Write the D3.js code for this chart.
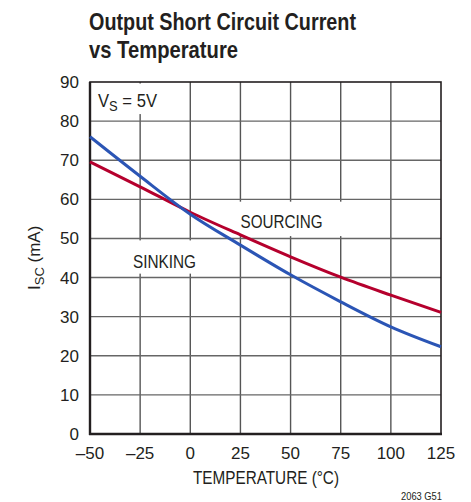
<!DOCTYPE html>
<html><head><meta charset="utf-8">
<script src="https://cdn.jsdelivr.net/npm/d3@7"></script>
<style>
html,body{margin:0;padding:0;background:#fff;}
svg{display:block;}
text{font-family:"Liberation Sans Narrow","Arial Narrow","Liberation Sans",sans-serif;fill:#231f20;}
</style></head>
<body>
<script>
const temperatures = [-50, -25, 0, 25, 50, 75, 100, 125];
const sinking = [76.0, 65.9, 56.2, 48.3, 40.7, 33.8, 27.4, 22.3];
const sourcing = [69.6, 63.2, 56.7, 50.9, 45.3, 40.1, 35.5, 31.1];
const xTicks = [-50, -25, 0, 25, 50, 75, 100, 125];
const yTicks = [0, 10, 20, 30, 40, 50, 60, 70, 80, 90];

const W = 471, H = 502;
const svg = d3.select("body").append("svg").attr("width", W).attr("height", H);
const x = d3.scaleLinear().domain([-50, 125]).range([90, 441]);
const y = d3.scaleLinear().domain([0, 90]).range([434, 82]);
const fmt = d => d < 0 ? "\u2013" + Math.abs(d) : String(d);

// Title
svg.append("text").attr("x", 89).attr("y", 30).attr("font-size", 24).attr("font-weight", "bold")
  .attr("textLength", 267).attr("lengthAdjust", "spacingAndGlyphs").text("Output Short Circuit Current");
svg.append("text").attr("x", 89).attr("y", 58).attr("font-size", 24).attr("font-weight", "bold")
  .attr("textLength", 149).attr("lengthAdjust", "spacingAndGlyphs").text("vs Temperature");

// Grid
const g = svg.append("g");
g.selectAll(".vg").data(xTicks.slice(1, -1)).enter().append("line")
  .attr("x1", d => x(d)).attr("x2", d => x(d)).attr("y1", y(90)).attr("y2", y(0))
  .attr("stroke", "#555").attr("stroke-width", 1.4);
g.selectAll(".hg").data(yTicks.slice(1, -1)).enter().append("line")
  .attr("x1", x(-50)).attr("x2", x(125)).attr("y1", d => y(d)).attr("y2", d => y(d))
  .attr("stroke", "#666").attr("stroke-width", 1.4);

// White label boxes
const boxes = [[-49.6, -22, 89.6, 81.8], [-35.5, 3, 49.5, 41], [22.8, 79, 59.4, 50.6]];
g.selectAll(".bx").data(boxes).enter().append("rect")
  .attr("x", d => x(d[0])).attr("width", d => x(d[1]) - x(d[0]))
  .attr("y", d => y(d[2])).attr("height", d => y(d[3]) - y(d[2]))
  .attr("fill", "#fff");

// Frame
svg.append("rect").attr("x", x(-50)).attr("y", y(90)).attr("width", x(125) - x(-50)).attr("height", y(0) - y(90))
  .attr("fill", "none").attr("stroke", "#231f20").attr("stroke-width", 1.6);
svg.append("line").attr("x1", x(-50)).attr("x2", x(-50)).attr("y1", y(90)).attr("y2", y(0) + 1)
  .attr("stroke", "#231f20").attr("stroke-width", 2.4);
svg.append("line").attr("x1", x(-50) - 1).attr("x2", x(125) + 1).attr("y1", y(0)).attr("y2", y(0))
  .attr("stroke", "#231f20").attr("stroke-width", 2.4);

// Axis tick labels
svg.selectAll(".xt").data(xTicks).enter().append("text")
  .attr("x", d => x(d)).attr("y", 459).attr("text-anchor", "middle").attr("font-size", 17).text(fmt);
svg.selectAll(".yt").data(yTicks).enter().append("text")
  .attr("x", 79).attr("y", d => y(d) + 6).attr("text-anchor", "end").attr("font-size", 17).text(fmt);

// Axis titles
svg.append("text").attr("x", 193).attr("y", 484).attr("font-size", 18)
  .attr("textLength", 146).attr("lengthAdjust", "spacingAndGlyphs")
  .text("TEMPERATURE (\u00B0C)");
const yt = svg.append("text").attr("transform", "translate(40,290) rotate(-90)")
  .attr("font-size", 17);
yt.append("tspan").text("I");
yt.append("tspan").attr("font-size", 13).attr("dy", 4).text("SC");
yt.append("tspan").attr("dy", -4).text(" (mA)");

// Annotations
const vs = svg.append("text").attr("x", 98).attr("y", 107).attr("font-size", 18)
  .attr("textLength", 59).attr("lengthAdjust", "spacingAndGlyphs");
vs.append("tspan").text("V");
vs.append("tspan").attr("font-size", 14).attr("dy", 4).text("S");
vs.append("tspan").attr("dy", -4).text(" = 5V");
svg.append("text").attr("x", 133).attr("y", 268).attr("font-size", 18)
  .attr("textLength", 63).attr("lengthAdjust", "spacingAndGlyphs").text("SINKING");
svg.append("text").attr("x", 240.5).attr("y", 227.5).attr("font-size", 18)
  .attr("textLength", 82).attr("lengthAdjust", "spacingAndGlyphs").text("SOURCING");

// Curves
const line = d3.line().x(d => x(d[0])).y(d => y(d[1])).curve(d3.curveMonotoneX);
svg.append("path").datum(temperatures.map((t, i) => [t, sourcing[i]])).attr("d", line)
  .attr("fill", "none").attr("stroke", "#b5002d").attr("stroke-width", 3);
svg.append("path").datum(temperatures.map((t, i) => [t, sinking[i]])).attr("d", line)
  .attr("fill", "none").attr("stroke", "#2b55b5").attr("stroke-width", 3);

svg.append("text").attr("x", 401).attr("y", 500).attr("font-size", 10.5)
  .attr("textLength", 41).attr("lengthAdjust", "spacingAndGlyphs").text("2063 G51");
</script>
</body></html>
